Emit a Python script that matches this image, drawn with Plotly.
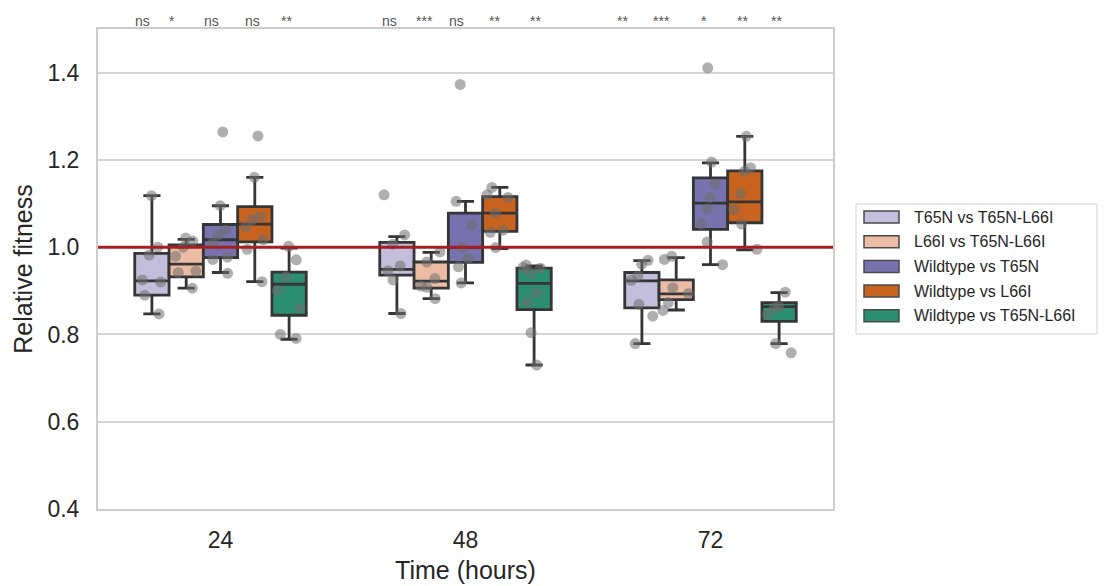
import plotly.graph_objects as go

# ---------------- data ----------------
TIMES = ["24", "48", "72"]
SERIES = ["T65N vs T65N-L66I", "L66I vs T65N-L66I", "Wildtype vs T65N",
          "Wildtype vs L66I", "Wildtype vs T65N-L66I"]

# box statistics per series, for times 24/48/72
LOWER = {
    "T65N vs T65N-L66I": [0.847, 0.848, 0.779],
    "L66I vs T65N-L66I": [0.906, 0.882, 0.856],
    "Wildtype vs T65N": [0.942, 0.918, 0.960],
    "Wildtype vs L66I": [0.921, 0.997, 0.994],
    "Wildtype vs T65N-L66I": [0.789, 0.730, 0.779],
}
Q1 = {
    "T65N vs T65N-L66I": [0.890, 0.936, 0.861],
    "L66I vs T65N-L66I": [0.932, 0.906, 0.880],
    "Wildtype vs T65N": [0.976, 0.965, 1.041],
    "Wildtype vs L66I": [1.012, 1.036, 1.056],
    "Wildtype vs T65N-L66I": [0.844, 0.857, 0.830],
}
MEDIAN = {
    "T65N vs T65N-L66I": [0.923, 0.949, 0.923],
    "L66I vs T65N-L66I": [0.961, 0.922, 0.893],
    "Wildtype vs T65N": [1.017, 0.999, 1.101],
    "Wildtype vs L66I": [1.053, 1.078, 1.104],
    "Wildtype vs T65N-L66I": [0.915, 0.917, 0.864],
}
Q3 = {
    "T65N vs T65N-L66I": [0.986, 1.011, 0.942],
    "L66I vs T65N-L66I": [1.005, 0.966, 0.925],
    "Wildtype vs T65N": [1.052, 1.078, 1.159],
    "Wildtype vs L66I": [1.093, 1.116, 1.175],
    "Wildtype vs T65N-L66I": [0.943, 0.952, 0.873],
}
UPPER = {
    "T65N vs T65N-L66I": [1.118, 1.024, 0.969],
    "L66I vs T65N-L66I": [1.018, 0.988, 0.976],
    "Wildtype vs T65N": [1.095, 1.105, 1.193],
    "Wildtype vs L66I": [1.160, 1.137, 1.254],
    "Wildtype vs T65N-L66I": [0.998, 0.957, 0.896],
}

# individual observations (strip points)
POINTS = {
    "T65N vs T65N-L66I": [
        [1.118, 1.000, 0.982, 0.925, 0.920, 0.890, 0.847],
        [1.120, 1.028, 1.007, 0.957, 0.946, 0.925, 0.848],
        [0.970, 0.961, 0.934, 0.924, 0.869, 0.842, 0.779],
    ],
    "L66I vs T65N-L66I": [
        [1.021, 1.014, 1.000, 0.979, 0.945, 0.942, 0.906],
        [0.989, 0.966, 0.928, 0.911, 0.908, 0.882],
        [0.979, 0.972, 0.907, 0.894, 0.873, 0.855],
    ],
    "Wildtype vs T65N": [
        [1.264, 1.095, 1.039, 1.028, 1.009, 0.977, 0.972, 0.940],
        [1.373, 1.105, 1.051, 0.999, 0.974, 0.955, 0.918],
        [1.411, 1.195, 1.145, 1.114, 1.087, 1.053, 1.012, 0.960],
    ],
    "Wildtype vs L66I": [
        [1.255, 1.160, 1.070, 1.063, 1.046, 1.017, 0.995, 0.921],
        [1.137, 1.120, 1.114, 1.078, 1.039, 1.034, 0.999],
        [1.254, 1.182, 1.174, 1.123, 1.086, 1.053, 0.995],
    ],
    "Wildtype vs T65N-L66I": [
        [1.002, 0.971, 0.932, 0.901, 0.860, 0.800, 0.791],
        [0.959, 0.954, 0.952, 0.940, 0.896, 0.874, 0.804, 0.730],
        [0.897, 0.864, 0.861, 0.846, 0.779, 0.758],
    ],
}

# significance labels per time point (one per series)
SIG_LABELS = [
    ["ns", "*", "ns", "ns", "**"],
    ["ns", "***", "ns", "**", "**"],
    ["**", "***", "*", "**", "**"],
]
REFERENCE_LEVEL = 1.0
Y_TICKS = [0.4, 0.6, 0.8, 1.0, 1.2, 1.4]

# ---------------- styling / layout ----------------
COLORS = ["#c3bedb", "#ecbda4", "#7872ae", "#c8631f", "#2b8e6f"]
EDGE = "#353535"
FONT = "Liberation Sans, Arial, sans-serif"
TXT = "#262626"
SIG_OFFSETS = [
    [-0.320, -0.198, -0.035, 0.129, 0.271],
    [-0.312, -0.169, -0.035, 0.120, 0.284],
    [-0.361, -0.202, -0.027, 0.129, 0.271],
]

fig = go.Figure()

for i, s in enumerate(SERIES):
    fig.add_trace(go.Box(
        x=TIMES, q1=Q1[s], median=MEDIAN[s], q3=Q3[s],
        lowerfence=LOWER[s], upperfence=UPPER[s],
        name=s, offsetgroup=str(i), boxpoints=False,
        fillcolor=COLORS[i], line=dict(color=EDGE, width=2.8),
        whiskerwidth=0.5, showlegend=False, hoverinfo="skip",
    ))

for i, s in enumerate(SERIES):
    xs, ys = [], []
    for t, vals in zip(TIMES, POINTS[s]):
        xs += [t] * len(vals)
        ys += vals
    fig.add_trace(go.Box(
        x=xs, y=ys, name=s, offsetgroup=str(i),
        boxpoints="all", jitter=0.8, pointpos=0,
        fillcolor="rgba(0,0,0,0)", line=dict(color="rgba(0,0,0,0)", width=0),
        marker=dict(color="rgba(110,110,110,0.55)", size=11, line=dict(width=0)),
        showlegend=False, hoverinfo="skip",
    ))

shapes = [dict(type="line", xref="paper", yref="y", x0=0, x1=1,
               y0=REFERENCE_LEVEL, y1=REFERENCE_LEVEL,
               line=dict(color="#a61e22", width=3), layer="above")]

annotations = []
for g, labels in enumerate(SIG_LABELS):
    for k, lab in enumerate(labels):
        annotations.append(dict(
            x=g + SIG_OFFSETS[g][k], y=1.017, xref="x", yref="paper",
            text=lab, showarrow=False, xanchor="center", yanchor="middle",
            font=dict(family=FONT, size=14, color="#555555")))

# manual legend (paper coordinates: plot area 98..833 px, 29..509 px)
def px_x(p):
    return (p - 98) / 735.0

def px_y(p):
    return (509 - p) / 480.0

shapes.append(dict(type="rect", xref="paper", yref="paper",
                   x0=px_x(856), x1=px_x(1097), y0=px_y(334), y1=px_y(204),
                   line=dict(color="#d0d0d0", width=1), fillcolor="white",
                   layer="above"))
for i, s in enumerate(SERIES):
    cy = 217 + i * 24.7
    shapes.append(dict(type="rect", xref="paper", yref="paper",
                       x0=px_x(864), x1=px_x(899), y0=px_y(cy + 6), y1=px_y(cy - 6),
                       line=dict(color="#4a4a4a", width=1.5), fillcolor=COLORS[i],
                       layer="above"))
    annotations.append(dict(x=px_x(912), y=px_y(cy), xref="paper", yref="paper",
                            text=s, showarrow=False, xanchor="left", yanchor="middle",
                            font=dict(family=FONT, size=16, color=TXT)))

fig.update_layout(
    width=1105, height=586, autosize=False,
    margin=dict(l=98, r=272, t=29, b=77),
    paper_bgcolor="white", plot_bgcolor="white",
    boxmode="group", boxgap=0.3, boxgroupgap=0.0,
    showlegend=False,
    shapes=shapes, annotations=annotations,
    font=dict(family=FONT, color=TXT),
    xaxis=dict(type="category", categoryorder="array", categoryarray=TIMES,
               range=[-0.5, 2.5], showgrid=False, zeroline=False, automargin=False,
               showline=True, mirror=True, linecolor="#cccccc", linewidth=2,
               ticks="outside", ticklen=9, tickcolor="rgba(0,0,0,0)",
               tickfont=dict(family=FONT, size=23, color=TXT),
               title=dict(text="Time (hours)", font=dict(family=FONT, size=25, color=TXT),
                          standoff=10)),
    yaxis=dict(range=[0.4, 1.5], tickvals=Y_TICKS, tickformat=".1f",
               showgrid=True, gridcolor="#d5d5d5", gridwidth=1.5, zeroline=False,
               automargin=False,
               showline=True, mirror=True, linecolor="#cccccc", linewidth=2,
               ticks="outside", ticklen=12, tickcolor="rgba(0,0,0,0)",
               tickfont=dict(family=FONT, size=23, color=TXT),
               title=dict(text="Relative fitness", font=dict(family=FONT, size=25, color=TXT),
                          standoff=8)),
)

fig.write_html("out.html")
